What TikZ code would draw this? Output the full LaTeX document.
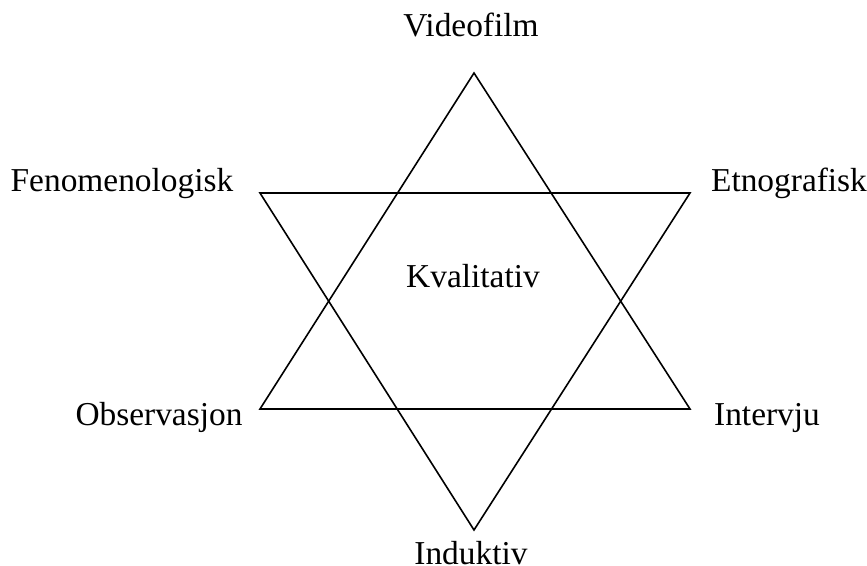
\documentclass[tikz,border=0pt]{standalone}
\usepackage{fontspec}
\setmainfont{Liberation Serif}
\usepackage{tikz}
\usetikzlibrary{positioning}

\begin{document}
\begin{tikzpicture}[x=0.5pt, y=-0.5pt,
      linje/.style={line width=0.8pt, line join=miter},
      merke/.style={anchor=base, inner sep=0pt, font=\fontsize{16.7}{20}\selectfont}]
    \useasboundingbox (0,0) rectangle (867,566);
    % hjorner
    \coordinate (topp) at (474,73);
    \coordinate (bunn) at (474,530);
    \coordinate (vo) at (260,193);
    \coordinate (ho) at (690,193);
    \coordinate (vn) at (260,409);
    \coordinate (hn) at (690,409);
    \draw[linje] (topp) -- (vn) -- (hn) -- cycle;
    \draw[linje] (vo) -- (ho) -- (bunn) -- cycle;
    % tekster
    \node[merke] (video) at (471,37) {Videofilm};
    \node[merke] (fenom) at (122,192) {Fenomenologisk};
    \node[merke] (etno) at (789,192) {Etnografisk};
    \node[merke] (kval) at (473,288) {Kvalitativ};
    \node[merke] (obs) at (159,425) {Observasjon};
    \node[merke] (interv) at (767,425) {Intervju};
    \node[merke] (induk) at (471,564) {Induktiv};
  \end{tikzpicture}
\end{document}
